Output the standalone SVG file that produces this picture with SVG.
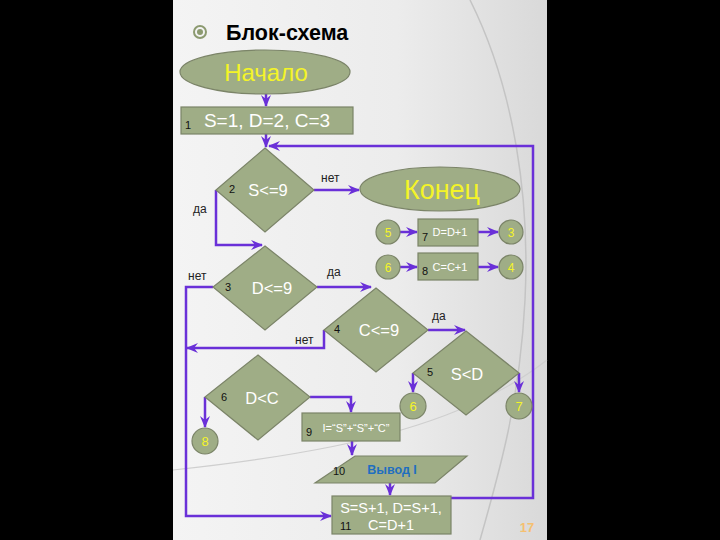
<svg xmlns="http://www.w3.org/2000/svg" width="720" height="540" viewBox="0 0 720 540">
<defs>
<linearGradient id="bg" x1="0" y1="0" x2="1" y2="0">
<stop offset="0" stop-color="#f4f4f4"/>
<stop offset="0.6" stop-color="#ececec"/>
<stop offset="1" stop-color="#d9d9d9"/>
</linearGradient>
<marker id="ah" viewBox="0 0 12 10" refX="11" refY="5" markerWidth="12" markerHeight="10" markerUnits="userSpaceOnUse" orient="auto">
<path d="M0,0 L12,5 L0,10 L4,5 Z" fill="#6a30d8"/>
</marker>
</defs>
<style>
.shape{fill:#9fad86;stroke:#7b8468;stroke-width:1.2}
.con{fill:none;stroke:#6a30d8;stroke-width:2.5}
.lbl{font-family:"Liberation Sans",Arial,sans-serif;font-size:12px;fill:#222}
.num{font-family:"Liberation Sans",Arial,sans-serif;font-size:11px;fill:#111}
.wt{font-family:"Liberation Sans",Arial,sans-serif;fill:#fff;text-anchor:middle}
.yel{font-family:"Liberation Sans",Arial,sans-serif;fill:#f4f428;text-anchor:middle}
</style>
<rect x="0" y="0" width="720" height="540" fill="#000"/>
<rect x="173" y="0" width="374" height="540" fill="url(#bg)"/>
<path d="M470,0 C515,90 530,200 525,300 C520,400 500,470 480,540" fill="none" stroke="#c4c4c4" stroke-width="1.5"/>
<path d="M547,360 C470,420 360,450 173,470" fill="none" stroke="#cfcfcf" stroke-width="1.2"/>
<g id="title">
<circle cx="200" cy="32" r="6" fill="none" stroke="#8c9a70" stroke-width="2"/>
<circle cx="200" cy="32" r="3" fill="#8c9a70"/>
<text x="226" y="40" font-family="'Liberation Sans',Arial,sans-serif" font-size="21.5" font-weight="bold" fill="#000">Блок-схема</text>
</g>
<g id="connectors">
<path class="con" d="M266,94 L266,106" marker-end="url(#ah)"/>
<path class="con" d="M266,134 L266,147" marker-end="url(#ah)"/>
<path class="con" d="M451,498 L533,498 L533,146 L269,146" marker-end="url(#ah)"/>
<path class="con" d="M314,190 L359,190" marker-end="url(#ah)"/>
<path class="con" d="M216,190 L216,245 L262,245" marker-end="url(#ah)"/>
<path class="con" d="M213,287 L186,287 L186,516 L331,516" marker-end="url(#ah)"/>
<path class="con" d="M317,287 L371,287" marker-end="url(#ah)"/>
<path class="con" d="M324,330 L324,348 L187,348" marker-end="url(#ah)"/>
<path class="con" d="M428,330 L465,330" marker-end="url(#ah)"/>
<path class="con" d="M413,373 L413,392" marker-end="url(#ah)"/>
<path class="con" d="M519,373 L519,392" marker-end="url(#ah)"/>
<path class="con" d="M205,397 L205,427" marker-end="url(#ah)"/>
<path class="con" d="M310,397 L351,397 L351,412" marker-end="url(#ah)"/>
<path class="con" d="M352,441 L352,455" marker-end="url(#ah)"/>
<path class="con" d="M390,483 L390,495" marker-end="url(#ah)"/>
<path class="con" d="M400,232 L417,232" marker-end="url(#ah)"/>
<path class="con" d="M478,232 L498,232" marker-end="url(#ah)"/>
<path class="con" d="M400,267 L417,267" marker-end="url(#ah)"/>
<path class="con" d="M478,267 L498,267" marker-end="url(#ah)"/>
<text class="lbl" x="321" y="182">нет</text>
<text class="lbl" x="193" y="213">да</text>
<text class="lbl" x="188" y="280">нет</text>
<text class="lbl" x="327" y="276">да</text>
<text class="lbl" x="295" y="344">нет</text>
<text class="lbl" x="432" y="320">да</text>
</g>
<g id="start">
<ellipse class="shape" cx="265" cy="72" rx="85" ry="22"/>
<text class="yel" x="266" y="81" font-size="24">Начало</text>
</g>
<g id="n1">
<rect class="shape" x="181" y="107" width="172" height="27"/>
<text class="num" x="185" y="129">1</text>
<text class="wt" x="267" y="127" font-size="19">S=1, D=2, C=3</text>
</g>
<g id="n2">
<polygon class="shape" points="265,148 314,190 265,232 216,190"/>
<text class="num" x="229" y="193">2</text>
<text class="wt" x="268" y="196" font-size="16.5">S&lt;=9</text>
</g>
<g id="end">
<ellipse class="shape" cx="440" cy="189" rx="80" ry="22"/>
<text class="yel" x="442" y="199" font-size="27">Конец</text>
</g>
<g id="c5a"><circle class="shape" cx="388" cy="232" r="12"/><text class="yel" x="388" y="236.5" font-size="12">5</text></g>
<g id="n7">
<rect class="shape" x="418" y="219" width="60" height="27"/>
<text class="num" x="422" y="241">7</text>
<text class="wt" x="450" y="236" font-size="11">D=D+1</text>
</g>
<g id="c3"><circle class="shape" cx="511" cy="232" r="12"/><text class="yel" x="511" y="236.5" font-size="12">3</text></g>
<g id="c6a"><circle class="shape" cx="388" cy="267" r="12"/><text class="yel" x="388" y="271.5" font-size="12">6</text></g>
<g id="n8">
<rect class="shape" x="418" y="253" width="60" height="27"/>
<text class="num" x="422" y="275">8</text>
<text class="wt" x="450" y="271" font-size="11">C=C+1</text>
</g>
<g id="c4"><circle class="shape" cx="511" cy="267" r="12"/><text class="yel" x="511" y="271.5" font-size="12">4</text></g>
<g id="n3">
<polygon class="shape" points="265,246 317,287 265,330 213,287"/>
<text class="num" x="225" y="291">3</text>
<text class="wt" x="272" y="294" font-size="16.5">D&lt;=9</text>
</g>
<g id="n4">
<polygon class="shape" points="376,288 428,330 376,372 324,330"/>
<text class="num" x="334" y="333">4</text>
<text class="wt" x="379" y="336" font-size="16.5">C&lt;=9</text>
</g>
<g id="n5">
<polygon class="shape" points="466,331 519,373 466,415 413,373"/>
<text class="num" x="427" y="376">5</text>
<text class="wt" x="467" y="380" font-size="16.5">S&lt;D</text>
</g>
<g id="c6b"><circle class="shape" cx="413" cy="406" r="13"/><text class="yel" x="413" y="410.5" font-size="13">6</text></g>
<g id="c7"><circle class="shape" cx="519" cy="406" r="13"/><text class="yel" x="519" y="410.5" font-size="13">7</text></g>
<g id="n6">
<polygon class="shape" points="258,355 310,397 258,440 205,397"/>
<text class="num" x="221" y="401">6</text>
<text class="wt" x="262" y="404" font-size="16.5">D&lt;C</text>
</g>
<g id="c8"><circle class="shape" cx="205" cy="441" r="13"/><text class="yel" x="205" y="445.5" font-size="13">8</text></g>
<g id="n9">
<rect class="shape" x="302" y="413" width="98" height="28"/>
<text class="num" x="306" y="436">9</text>
<text class="wt" x="356" y="432" font-size="11">I=“S”+“S”+“C”</text>
</g>
<g id="n10">
<polygon class="shape" points="355,456 467,456 435,483 315,483"/>
<text class="num" x="333" y="475">10</text>
<text x="392" y="474" font-family="'Liberation Sans',Arial,sans-serif" font-size="12.5" font-weight="bold" fill="#1f6fc0" text-anchor="middle">Вывод I</text>
</g>
<g id="n11">
<rect class="shape" x="332" y="496" width="119" height="38"/>
<text class="num" x="340" y="530">11</text>
<text class="wt" x="391" y="513" font-size="14.5">S=S+1, D=S+1,</text>
<text class="wt" x="391" y="530" font-size="14.5">C=D+1</text>
</g>
<text x="527" y="532" font-family="'Liberation Sans',Arial,sans-serif" font-size="13" font-weight="bold" fill="#f5c070" text-anchor="middle">17</text>
</svg>
